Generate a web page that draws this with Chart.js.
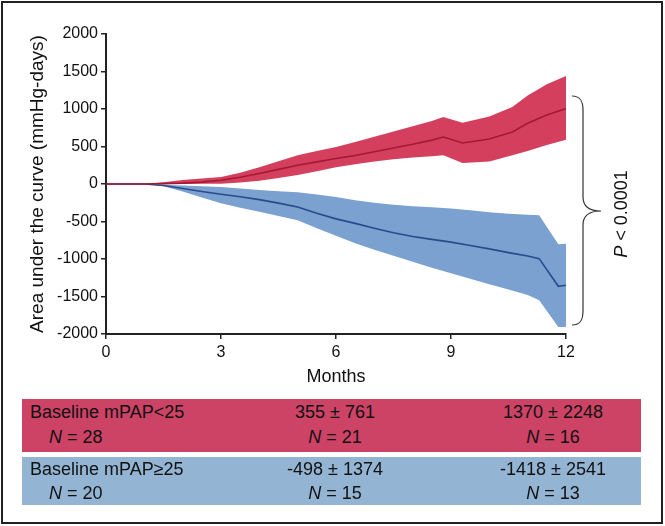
<!DOCTYPE html>
<html>
<head>
<meta charset="utf-8">
<script src="https://cdn.jsdelivr.net/npm/chart.js@4.4.0/dist/chart.umd.min.js"></script>
<style>
  html, body { margin: 0; padding: 0; background: #fff; }
  #wrap { position: relative; width: 665px; height: 526px; font-family: "Liberation Sans", Arial, sans-serif; }
  #c { position: absolute; left: 0; top: 0; }
  .row { position: absolute; left: 22px; width: 619px; color: #111; font-size: 18px; }
  .cell { position: absolute; white-space: nowrap; }
  .ctr { transform: translateX(-50%); }
  i { font-style: italic; }
</style>
</head>
<body>
<div id="wrap">
  <canvas id="c" width="665" height="526"></canvas>
  <div class="row" id="row1" style="top:399px;height:53px;background:#cc4366;"></div>
  <div class="row" id="row2" style="top:457px;height:48px;background:#93b4d3;"></div>
</div>
<script>
// ---- data ----
const xTicks = [0, 3, 6, 9, 12];
const yTicks = [-2000, -1500, -1000, -500, 0, 500, 1000, 1500, 2000];

const redMonths = [0, 0.5, 1, 1.5, 2, 2.5, 3, 3.5, 4, 4.5, 5, 5.5, 6, 6.5, 7, 7.5, 8, 8.5, 8.8, 9.3, 10, 10.6, 11, 11.5, 12];
const redMean   = [0, 0, 0, 5, 12, 25, 50, 90, 140, 195, 250, 295, 340, 380, 430, 480, 530, 585, 627, 547, 600, 693, 810, 920, 1005];
const redUpper  = [0, 0, 0, 25, 55, 75, 95, 150, 225, 305, 385, 440, 495, 560, 630, 700, 770, 840, 893, 818, 900, 1027, 1180, 1330, 1440];
const redLower  = [0, 0, 0, 0, 0, 3, 5, 20, 45, 80, 120, 170, 225, 265, 300, 330, 355, 370, 383, 280, 300, 383, 440, 520, 590];

const blueMonths = [0, 0.5, 1, 1.5, 2, 2.5, 3, 3.5, 4, 4.5, 5, 5.5, 6, 6.5, 7, 7.5, 8, 8.5, 9, 9.5, 10, 10.5, 11, 11.3, 11.8, 12];
const blueMean   = [0, 0, 0, -20, -60, -100, -137, -170, -208, -255, -307, -390, -465, -525, -590, -650, -700, -738, -775, -820, -865, -915, -960, -995, -1364, -1350];
const blueUpper  = [0, 0, 0, -10, -20, -30, -40, -60, -80, -95, -110, -140, -173, -215, -250, -278, -298, -310, -328, -350, -375, -398, -410, -417, -804, -795];
const blueLower  = [0, 0, 0, -30, -100, -180, -255, -315, -370, -425, -484, -590, -690, -790, -875, -955, -1035, -1115, -1190, -1262, -1335, -1405, -1480, -1551, -1907, -1907];

const tableRows = [
  { label: "Baseline mPAP<25", n0: "28", v6: "355 ± 761", n6: "21", v12: "1370 ± 2248", n12: "16" },
  { label: "Baseline mPAP≥25", n0: "20", v6: "-498 ± 1374", n6: "15", v12: "-1418 ± 2541", n12: "13" }
];
const pLabel = "< 0.0001";
const yTitle = "Area under the curve (mmHg-days)";
const xTitle = "Months";

// ---- table ----
function fillRow(el, r, y1, y2) {
  const mk = (txt, left, top, ctr) => {
    const d = document.createElement('div');
    d.className = 'cell' + (ctr ? ' ctr' : '');
    d.style.left = left + 'px';
    d.style.top = top + 'px';
    d.innerHTML = txt;
    el.appendChild(d);
  };
  mk(r.label, 8, y1, false);
  mk('<i>N</i> = ' + r.n0, 27, y2, false);
  mk(r.v6, 313, y1, true);
  mk('<i>N</i> = ' + r.n6, 313, y2, true);
  mk(r.v12, 531, y1, true);
  mk('<i>N</i> = ' + r.n12, 531, y2, true);
}
fillRow(document.getElementById('row1'), tableRows[0], 3, 28);
fillRow(document.getElementById('row2'), tableRows[1], 2, 26);

// ---- chart ----
const pts = (xs, ys) => xs.map((x, i) => ({ x: x, y: ys[i] }));
const FONT = "'Liberation Sans', Arial, sans-serif";

const decor = {
  id: 'decor',
  afterDraw(chart) {
    const ctx = chart.ctx;
    ctx.save();
    // outer border
    ctx.strokeStyle = '#222';
    ctx.lineWidth = 2;
    ctx.strokeRect(2, 2, 660, 521);
    // brace
    const xL = 572, xM = 583, xT = 601, yT = 96, yB = 325, yC = 211;
    ctx.strokeStyle = '#333';
    ctx.lineWidth = 1.2;
    ctx.beginPath();
    ctx.moveTo(xL, yT);
    ctx.bezierCurveTo(xM - 2, yT, xM, yT + 6, xM, yT + 14);
    ctx.lineTo(xM, yC - 14);
    ctx.bezierCurveTo(xM, yC - 4, xM + 6, yC, xT, yC);
    ctx.bezierCurveTo(xM + 6, yC, xM, yC + 4, xM, yC + 14);
    ctx.lineTo(xM, yB - 14);
    ctx.bezierCurveTo(xM, yB - 6, xM - 2, yB, xL, yB);
    ctx.stroke();
    // P label
    ctx.translate(622, 214);
    ctx.rotate(-Math.PI / 2);
    ctx.fillStyle = '#111';
    ctx.textBaseline = 'middle';
    ctx.font = "italic 18px " + FONT;
    const pW = ctx.measureText('P').width;
    ctx.font = "18px " + FONT;
    const restW = ctx.measureText(' ' + pLabel).width;
    const start = -(pW + restW) / 2;
    ctx.font = "italic 18px " + FONT;
    ctx.textAlign = 'left';
    ctx.fillText('P', start, 0);
    ctx.font = "18px " + FONT;
    ctx.fillText(' ' + pLabel, start + pW, 0);
    ctx.restore();
  }
};

new Chart(document.getElementById('c'), {
  type: 'line',
  data: {
    datasets: [
      { data: pts(redMonths, redMean), borderColor: '#a31a32', borderWidth: 1.6, pointRadius: 0, fill: false, tension: 0 },
      { data: pts(blueMonths, blueMean), borderColor: '#2a4a8c', borderWidth: 1.6, pointRadius: 0, fill: false, tension: 0 },
      { data: pts(redMonths, redUpper), borderWidth: 0, borderColor: 'rgba(0,0,0,0)', pointRadius: 0, fill: '+1', backgroundColor: '#d43f5e', tension: 0 },
      { data: pts(redMonths, redLower), borderWidth: 0, borderColor: 'rgba(0,0,0,0)', pointRadius: 0, fill: false, tension: 0 },
      { data: pts(blueMonths, blueUpper), borderWidth: 0, borderColor: 'rgba(0,0,0,0)', pointRadius: 0, fill: '+1', backgroundColor: '#7aa1d0', tension: 0 },
      { data: pts(blueMonths, blueLower), borderWidth: 0, borderColor: 'rgba(0,0,0,0)', pointRadius: 0, fill: false, tension: 0 }
    ]
  },
  options: {
    responsive: false,
    animation: false,
    layout: { padding: { left: 0, top: 34, right: 99, bottom: 136 } },
    plugins: { legend: { display: false }, tooltip: { enabled: false } },
    scales: {
      x: {
        type: 'linear', min: 0, max: 12,
        afterFit(s) { s.height = 56; },
        afterBuildTicks(s) { s.ticks = xTicks.map(v => ({ value: v })); },
        ticks: { color: '#111', font: { family: FONT, size: 16 }, padding: 4, callback: v => String(v) },
        grid: { drawOnChartArea: false, drawTicks: true, tickLength: 5, color: '#222', lineWidth: 1.5 },
        border: { display: true, color: '#222', width: 2 },
        title: { display: true, text: xTitle, color: '#111', font: { family: FONT, size: 18 }, padding: { top: 0, bottom: 2 } }
      },
      y: {
        type: 'linear', min: -2000, max: 2000,
        afterFit(s) { s.width = 106; },
        afterBuildTicks(s) { s.ticks = yTicks.map(v => ({ value: v })); },
        ticks: { color: '#111', font: { family: FONT, size: 16 }, padding: 3, callback: v => String(v) },
        grid: { drawOnChartArea: false, drawTicks: true, tickLength: 5, color: '#222', lineWidth: 1.5 },
        border: { display: true, color: '#222', width: 2 },
        title: { display: true, text: yTitle, color: '#111', font: { family: FONT, size: 19 }, padding: { top: 26, bottom: 0 } }
      }
    }
  },
  plugins: [decor]
});
</script>
</body>
</html>
